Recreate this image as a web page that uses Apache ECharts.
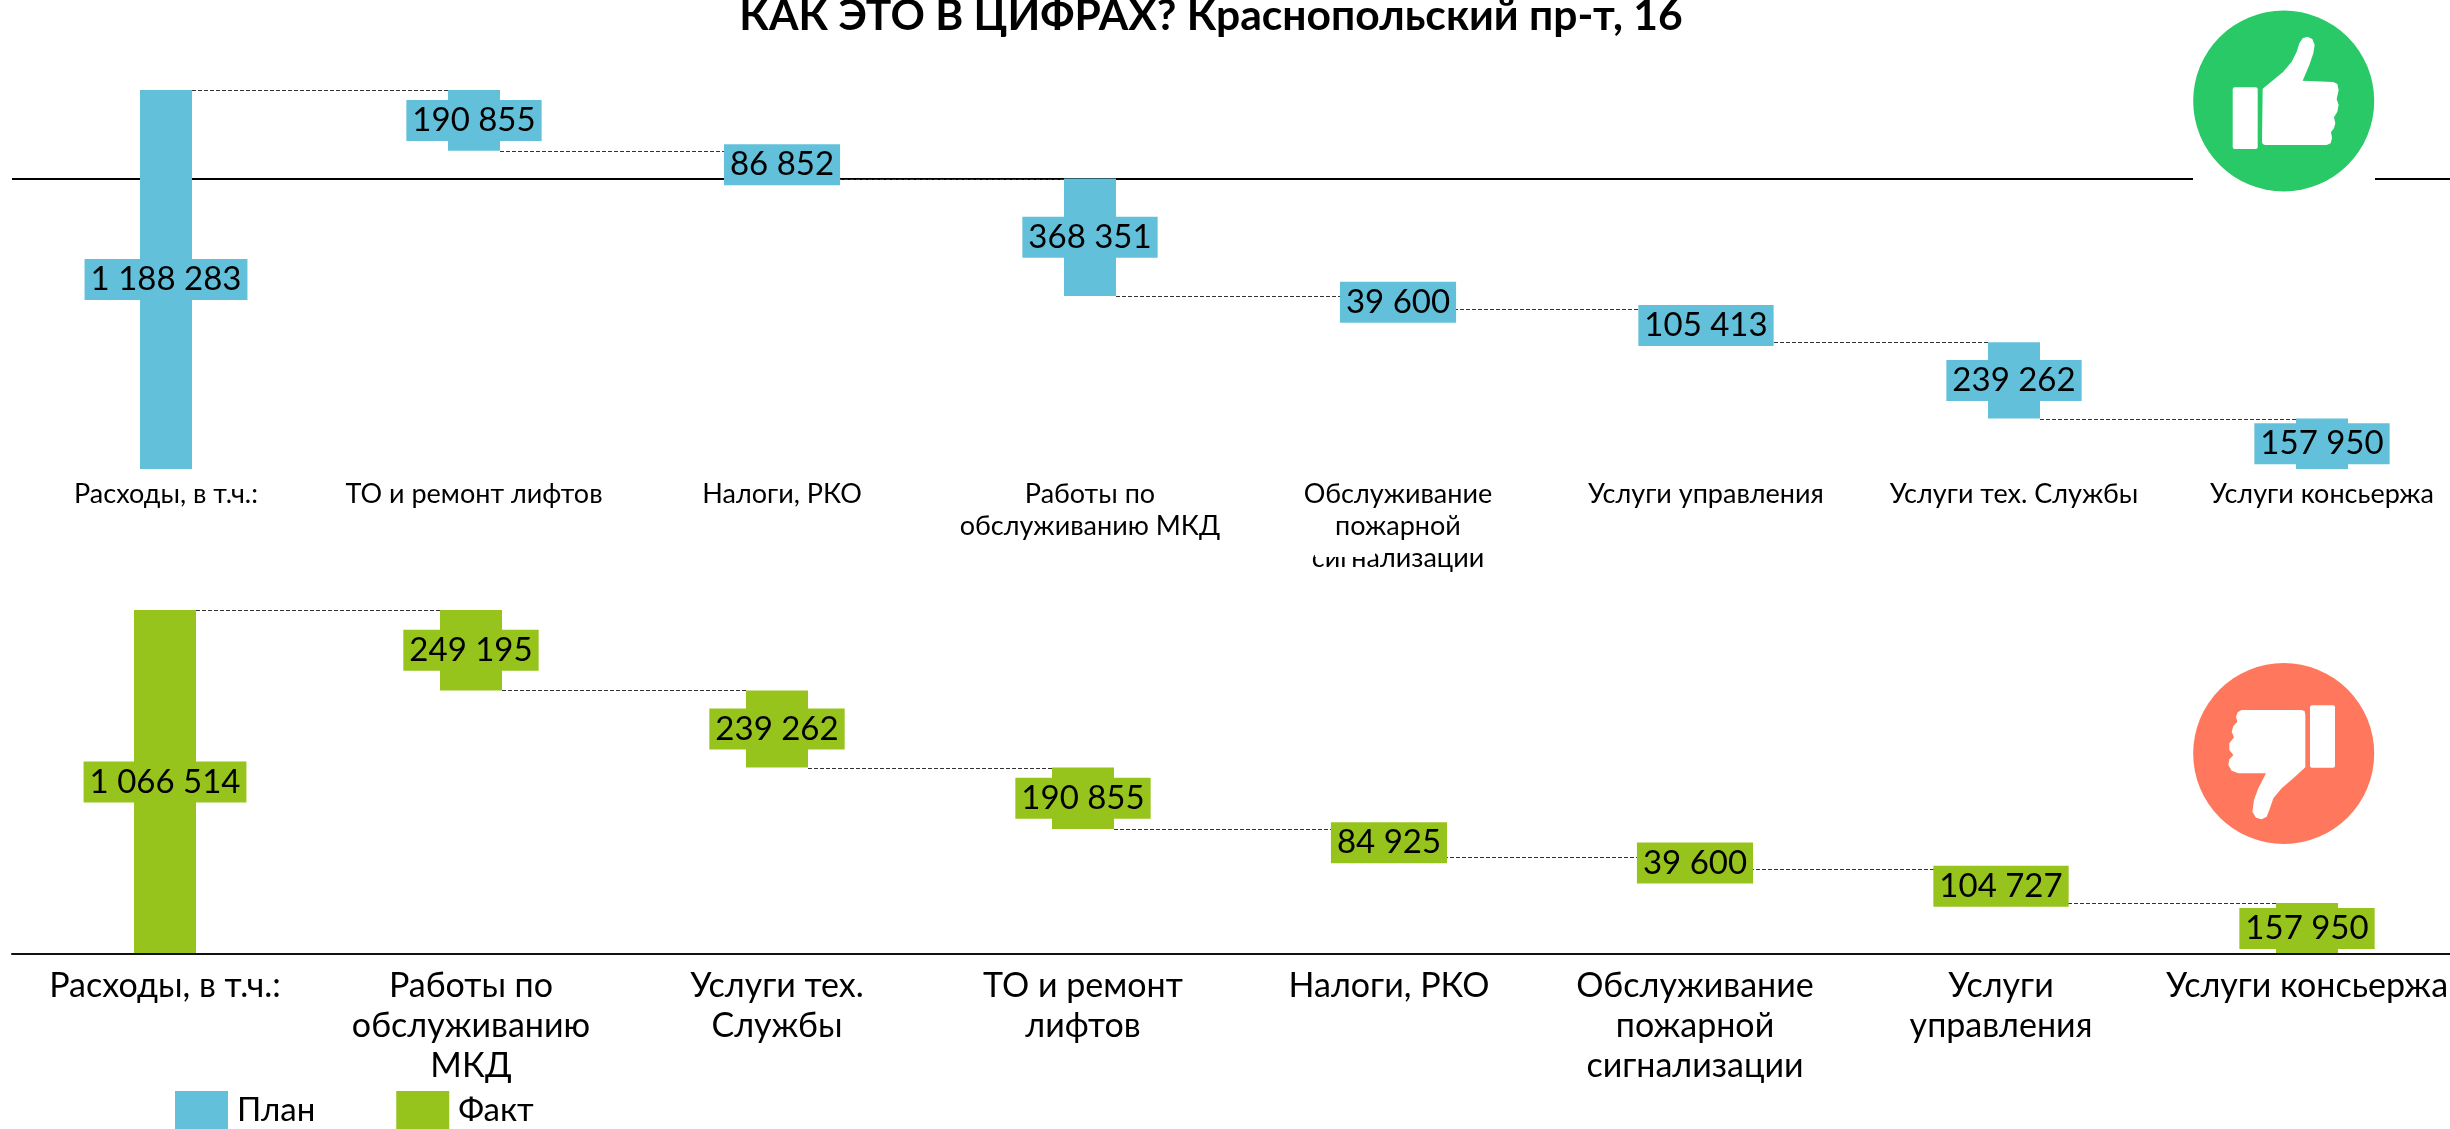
<!DOCTYPE html>
<html><head><meta charset="utf-8">
<style>html,body{margin:0;padding:0;background:#fff;overflow:hidden}#c{width:2450px;height:1129px}</style>
<script src="https://cdn.jsdelivr.net/npm/echarts@6/dist/echarts.min.js"></script>
</head><body><div id="c"></div>
<script>
const planCategories = ['Расходы, в т.ч.:','ТО и ремонт лифтов','Налоги, РКО','Работы по\nобслуживанию МКД','Обслуживание\nпожарной\nсигнализации','Услуги управления','Услуги тех. Службы','Услуги консьержа'];
const planValues = [1188283,190855,86852,368351,39600,105413,239262,157950];
const planBases = [0,997428,910576,542225,502625,397212,157950,0];
const factCategories = ['Расходы, в т.ч.:','Работы по\nобслуживанию\nМКД','Услуги тех.\nСлужбы','ТО и ремонт\nлифтов','Налоги, РКО','Обслуживание\nпожарной\nсигнализации','Услуги\nуправления','Услуги консьержа'];
const factValues = [1066514,249195,239262,190855,84925,39600,104727,157950];
const factBases = [0,817319,578057,387202,302277,262677,157950,0];
const titleText = 'КАК ЭТО В ЦИФРАХ? Краснопольский пр-т, 16';

const BLUE='#62C0DA', GREEN='#96C31C', FONT='Lato, "Open Sans", sans-serif';
const fmt = v => String(v).replace(/\B(?=(\d{3})+$)/g,' ');
const levels = (vals,bases) => vals.slice(0,-1).map((_,i)=>[i,bases[i+1]+vals[i+1]]);
const connector = (xi,yi,data,half) => ({
  type:'custom', xAxisIndex:xi, yAxisIndex:yi, z:1, silent:true, data, clip:false,
  encode:{x:0,y:1},
  renderItem(p,api){
    const a=api.coord([api.value(0),api.value(1)]), b=api.coord([api.value(0)+1,api.value(1)]);
    const y=Math.round(a[1])+0.5;
    return {type:'line',shape:{x1:a[0]+half,y1:y,x2:b[0]-half,y2:y},style:{stroke:'#333',lineWidth:1,lineDash:[4,2]}};
  }
});
const helper = (name,xi,yi,data,stack) => ({name,type:'bar',xAxisIndex:xi,yAxisIndex:yi,stack,data,silent:true,
  itemStyle:{color:'transparent'},label:{show:false},emphasis:{disabled:true}});
const visible = (name,xi,yi,data,stack,color,w,extra) => Object.assign({name,type:'bar',xAxisIndex:xi,yAxisIndex:yi,stack,data,barWidth:w,
  itemStyle:{color},emphasis:{disabled:true},
  label:{show:true,position:'inside',formatter:p=>fmt(p.value),color:'#000',fontFamily:FONT,fontSize:33,lineHeight:41,padding:[0,6],backgroundColor:color}},extra||{});
const icon = (ox,oy,pts) => pts.map(p=>[ox+p[0]/3,oy+p[1]/3]);
const upHand = [[338,236],[370,210],[400,185],[425,155],[440,125],[448,100],[458,85],[472,80],[487,87],[494,105],[490,130],[478,165],[458,212],[550,216],[562,222],[566,240],[560,268],[566,285],[562,305],[552,322],[556,340],[552,355],[543,366],[546,385],[542,400],[530,405],[345,405],[338,402],[336,395]];
const downHand = [[275,180],[455,180],[464,184],[466,195],[466,352],[430,385],[395,415],[370,445],[358,480],[350,500],[335,508],[318,503],[307,485],[312,450],[325,415],[348,370],[265,370],[245,362],[235,345],[238,328],[250,315],[238,300],[238,280],[252,262],[245,245],[250,228],[262,215],[258,200],[263,187]];

const xAxisCommon = {type:'category',axisTick:{show:false},splitLine:{show:false}};
const chart = echarts.init(document.getElementById('c'),null,{renderer:'canvas'});
chart.setOption({
  animation:false, backgroundColor:'#fff',
  title:{text:titleText,left:1206,textAlign:'center',top:-10,textStyle:{fontFamily:FONT,fontWeight:'bold',fontSize:42.6,color:'#000'}},
  legend:{data:['План','Факт'],left:175,top:1091,padding:0,itemWidth:53,itemHeight:38,itemGap:81,icon:'rect',selectedMode:false,
    textStyle:{fontFamily:FONT,fontSize:33,color:'#000',padding:[4,0,0,4]}},
  grid:[{left:12,top:90,width:2464,height:379,outerBoundsMode:'none'},{left:12,top:610,width:2448,height:344,outerBoundsMode:'none'}],
  xAxis:[
    Object.assign({},xAxisCommon,{gridIndex:0,data:planCategories,axisLine:{show:false},
      axisLabel:{interval:0,margin:9,fontFamily:FONT,fontSize:27,lineHeight:32,color:'#000',hideOverlap:false}}),
    Object.assign({},xAxisCommon,{gridIndex:1,data:factCategories,z:3,axisLine:{show:true,lineStyle:{color:'#111',width:2}},
      axisLabel:{interval:0,margin:12,fontFamily:FONT,fontSize:34,lineHeight:40,color:'#000',hideOverlap:false}})
  ],
  yAxis:[
    {type:'value',gridIndex:0,min:0,max:planValues[0],show:false},
    {type:'value',gridIndex:1,min:0,max:factValues[0],show:false}
  ],
  series:[
    connector(0,0,levels(planValues,planBases),26),
    connector(1,1,levels(factValues,factBases),31),
    helper('planBase',0,0,planBases,'p'),
    visible('План',0,0,planValues,'p',BLUE,52,{markLine:{silent:true,symbol:'none',z:1,label:{show:false},lineStyle:{color:'#000',width:2,type:'solid'},emphasis:{disabled:true},data:[{yAxis:planBases[2]}]}}),
    helper('factBase',1,1,factBases,'f'),
    visible('Факт',1,1,factValues,'f',GREEN,62)
  ],
  graphic:[
    {type:'rect',z:20,shape:{x:2193,y:170,width:182,height:22},style:{fill:'#fff'}},
    {type:'circle',z:21,shape:{cx:2283.7,cy:101,r:90.5},style:{fill:'#28C966'}},
    {type:'rect',z:22,shape:{x:2232.7,y:87.3,width:25,height:61.7,r:2},style:{fill:'#fff'}},
    {type:'polygon',z:22,shape:{points:icon(2150,10,upHand)},style:{fill:'#fff'}},
    {type:'circle',z:21,shape:{cx:2283.7,cy:753.5,r:90.5},style:{fill:'#FF775C'}},
    {type:'rect',z:22,shape:{x:2310,y:705.3,width:25,height:62.4,r:2},style:{fill:'#fff'}},
    {type:'polygon',z:22,shape:{points:icon(2150,650,downHand)},style:{fill:'#fff'}},
    {type:'rect',z:20,shape:{x:1315,y:552,width:60,height:5},style:{fill:'#fff'}}
  ]
});
</script></body></html>
